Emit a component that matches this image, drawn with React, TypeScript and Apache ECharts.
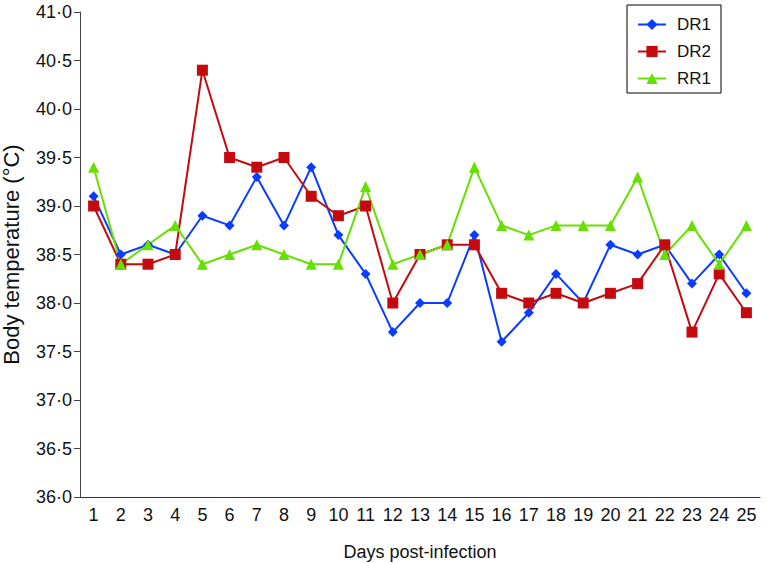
import React, { useEffect, useRef } from "react";
import * as echarts from "echarts";

const days = ["1","2","3","4","5","6","7","8","9","10","11","12","13","14","15","16","17","18","19","20","21","22","23","24","25"];
const dr1 = [39.1, 38.5, 38.6, 38.5, 38.9, 38.8, 39.3, 38.8, 39.4, 38.7, 38.3, 37.7, 38.0, 38.0, 38.7, 37.6, 37.9, 38.3, 38.0, 38.6, 38.5, 38.6, 38.2, 38.5, 38.1];
const dr2 = [39.0, 38.4, 38.4, 38.5, 40.4, 39.5, 39.4, 39.5, 39.1, 38.9, 39.0, 38.0, 38.5, 38.6, 38.6, 38.1, 38.0, 38.1, 38.0, 38.1, 38.2, 38.6, 37.7, 38.3, 37.9];
const rr1 = [39.4, 38.4, 38.6, 38.8, 38.4, 38.5, 38.6, 38.5, 38.4, 38.4, 39.2, 38.4, 38.5, 38.6, 39.4, 38.8, 38.7, 38.8, 38.8, 38.8, 39.3, 38.5, 38.8, 38.4, 38.8];

const FONT = "'Liberation Sans', Arial, sans-serif";

export default function App() {
  const ref = useRef<HTMLDivElement>(null);
  useEffect(() => {
    if (!ref.current) return;
    const chart = echarts.init(ref.current, null, { renderer: "svg" });
    const mk = (name: string, data: number[], color: string, symbol: string, size: number) => ({
      name,
      type: "line",
      data,
      symbol,
      symbolSize: size,
      itemStyle: { color },
      lineStyle: { color, width: 2 },
      z: 2,
    });
    chart.setOption({
      animation: false,
      textStyle: { fontFamily: FONT },
      grid: { left: 80, right: 7, top: 12, bottom: 66, containLabel: false, outerBoundsMode: "none" },
      legend: {
        orient: "vertical",
        left: 627,
        top: 5,
        padding: [11, 10, 6, 10],
        itemGap: 10,
        itemWidth: 28,
        itemHeight: 14,
        borderColor: "#000",
        borderWidth: 1,
        textStyle: { fontSize: 17, color: "#111", fontFamily: FONT, padding: [0, 0, 0, 6] },
        data: ["DR1", "DR2", "RR1"],
      },
      xAxis: {
        type: "category",
        data: days,
        boundaryGap: true,
        name: "Days post-infection",
        nameLocation: "middle",
        nameGap: 46,
        nameTextStyle: { fontSize: 18, color: "#111", fontFamily: FONT },
        axisLine: { lineStyle: { color: "#333", width: 1 } },
        axisTick: { show: false },
        axisLabel: { fontSize: 18, color: "#111", margin: 9, fontFamily: FONT, interval: 0 },
      },
      yAxis: {
        type: "value",
        min: 36,
        max: 41,
        interval: 0.5,
        name: "Body temperature (°C)",
        nameLocation: "middle",
        nameGap: 58,
        nameTextStyle: { fontSize: 22, color: "#111", fontFamily: FONT },
        axisLine: { show: true, lineStyle: { color: "#444", width: 1 } },
        axisTick: { show: true, length: 6, lineStyle: { color: "#444" } },
        splitLine: { show: false },
        axisLabel: {
          fontSize: 18,
          color: "#111",
          margin: 8,
          fontFamily: FONT,
          formatter: (v: number) => v.toFixed(1).replace(".", "·"),
        },
      },
      series: [
        mk("DR1", dr1, "#0a3cff", "diamond", 10),
        mk("DR2", dr2, "#c40a0f", "rect", 11),
        mk("RR1", rr1, "#66e000", "triangle", 11),
      ],
    });
    return () => chart.dispose();
  }, []);
  return <div ref={ref} style={{ width: 767, height: 563, position: "absolute", left: 0, top: 0 }} />;
}
